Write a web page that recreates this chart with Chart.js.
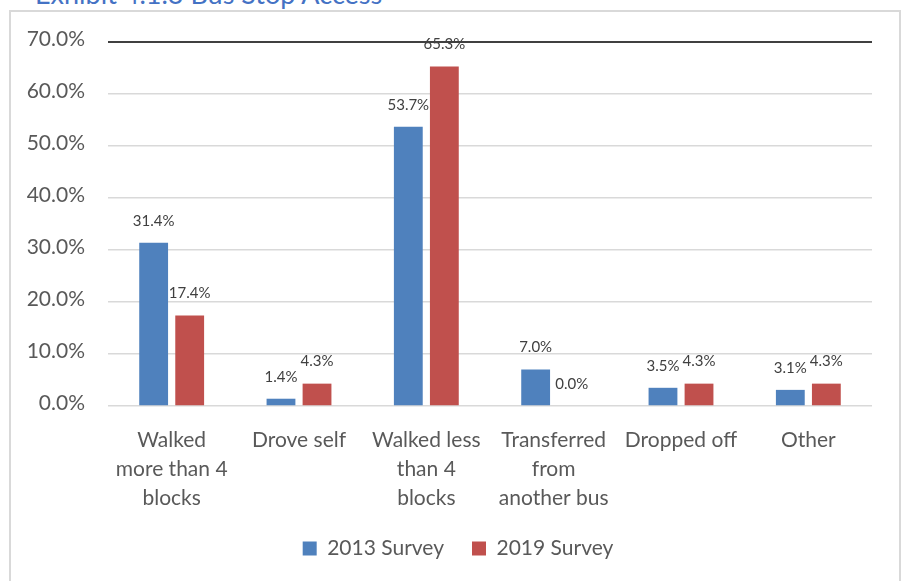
<!DOCTYPE html>
<html>
<head>
<meta charset="utf-8">
<script src="https://cdn.jsdelivr.net/npm/chart.js@4.4.1/dist/chart.umd.min.js"></script>
<style>
  html, body { margin: 0; padding: 0; background: #ffffff; overflow: hidden; }
  body { width: 905px; height: 581px; position: relative; font-family: Lato, sans-serif; }
  #title { position: absolute; left: 35px; top: -20px; font-size: 27px; line-height: 27px; color: #4472C4; white-space: nowrap; font-family: Lato, sans-serif; }
  #frame { position: absolute; left: 9px; top: 10px; width: 892px; height: 600px; border: 2px solid #D9D9D9; box-sizing: border-box; }
  #wrap { position: absolute; left: 0; top: 0; width: 905px; height: 581px; }
</style>
</head>
<body>
<div id="title">Exhibit 4.1.3 Bus Stop Access</div>
<div id="frame"></div>
<div id="wrap"><canvas id="c" width="905" height="581"></canvas></div>
<script>
const categories = [
  ["Walked", "more than 4", "blocks"],
  ["Drove self"],
  ["Walked less", "than 4", "blocks"],
  ["Transferred", "from", "another bus"],
  ["Dropped off"],
  ["Other"]
];
const series2013 = [31.4, 1.4, 53.7, 7.0, 3.5, 3.1];
const series2019 = [17.4, 4.3, 65.3, 0.0, 4.3, 4.3];
const seriesNames = ["2013 Survey", "2019 Survey"];
const yTicks = [0, 10, 20, 30, 40, 50, 60, 70];

const labelPlugin = {
  id: 'barLabels',
  afterDatasetsDraw(chart) {
    const ctx = chart.ctx;
    ctx.save();
    ctx.font = '15px Lato, sans-serif';
    ctx.fillStyle = '#404040';
    ctx.textAlign = 'center';
    ctx.textBaseline = 'middle';
    chart.data.datasets.forEach((ds, i) => {
      const meta = chart.getDatasetMeta(i);
      meta.data.forEach((el, j) => {
        ctx.fillText(ds.data[j].toFixed(1) + '%', el.x, el.y - 22);
      });
    });
    ctx.restore();
  }
};

const legendShift = {
  id: 'legendShift',
  afterLayout(chart) {
    const lg = chart.legend;
    if (lg) { lg.left += 22; lg.right += 22; }
  }
};

new Chart(document.getElementById('c'), {
  type: 'bar',
  data: {
    labels: categories,
    datasets: [
      { label: seriesNames[0], data: series2013, backgroundColor: '#4F81BD', borderWidth: 0, categoryPercentage: 0.566, barPercentage: 0.8 },
      { label: seriesNames[1], data: series2019, backgroundColor: '#C0504D', borderWidth: 0, categoryPercentage: 0.566, barPercentage: 0.8 }
    ]
  },
  options: {
    responsive: false,
    animation: false,
    devicePixelRatio: 1,
    layout: { padding: { left: 0, right: 33, top: 42, bottom: 12 } },
    plugins: {
      title: { display: false },
      tooltip: { enabled: false },
      legend: {
        display: true,
        position: 'bottom',
        labels: {
          boxWidth: 14, boxHeight: 14, padding: 28,
          color: '#595959',
          font: { size: 21, family: 'Lato, sans-serif' }
        }
      }
    },
    scales: {
      x: {
        grid: { display: false, drawTicks: false },
        border: { display: false },
        ticks: {
          color: '#595959',
          padding: 20,
          maxRotation: 0,
          autoSkip: false,
          font: { size: 21, family: 'Lato, sans-serif', lineHeight: 1.38 }
        },
        afterFit(scale) { scale.height = 104; }
      },
      y: {
        min: 0, max: 70,
        afterBuildTicks(scale) { scale.ticks = yTicks.map(v => ({ value: v })); },
        grid: {
          drawTicks: false,
          color: ctx => ctx.tick && ctx.tick.value === 70 ? '#404040' : '#D9D9D9',
          lineWidth: ctx => ctx.tick && ctx.tick.value === 70 ? 2 : 1.5
        },
        border: { display: false },
        ticks: {
          color: '#595959',
          padding: 23,
          labelOffset: -3,
          font: { size: 21, family: 'Lato, sans-serif' },
          callback: v => v.toFixed(1) + '%'
        },
        afterFit(scale) { scale.width = 108; }
      }
    }
  },
  plugins: [labelPlugin, legendShift]
});
</script>
</body>
</html>
